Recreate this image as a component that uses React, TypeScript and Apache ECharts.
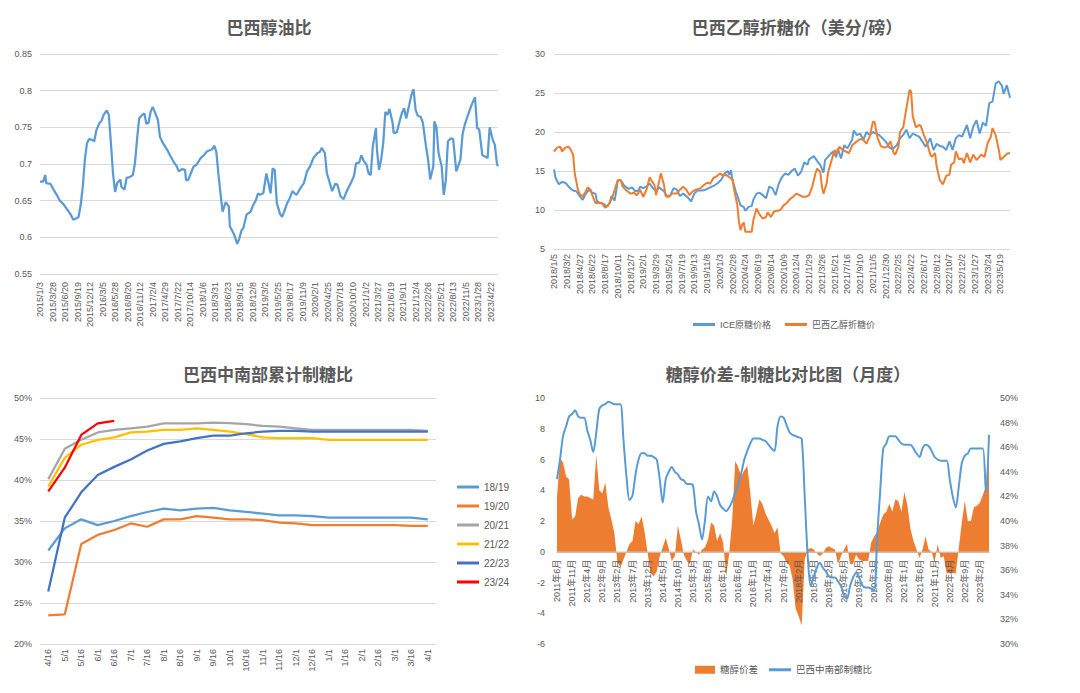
import { useEffect, useRef } from "react";
import * as echarts from "echarts";

const FONT = "'Liberation Sans', 'Noto Sans CJK SC', sans-serif";
const TITLE_FONT = "'Noto Sans CJK SC', sans-serif";
const LABEL = "#595959";
const GRIDLINE = "#d9d9d9";
const BLUE = "#5B9BD5";
const ORANGE = "#ED7D31";

// 巴西醇油比 — weekly, week 0 = 2015/1/3, one tick label every 12 weeks
const oilTicks = [
  "2015/1/3", "2015/3/28", "2015/6/20", "2015/9/19", "2015/12/12", "2016/3/5",
  "2016/5/28", "2016/8/20", "2016/11/12", "2017/2/4", "2017/4/29", "2017/7/22",
  "2017/10/14", "2018/1/6", "2018/3/31", "2018/6/23", "2018/9/15", "2018/12/8",
  "2019/3/2", "2019/5/25", "2019/8/17", "2019/11/9", "2020/2/1", "2020/4/25",
  "2020/7/18", "2020/10/10", "2021/1/2", "2021/3/27", "2021/6/19", "2021/9/11",
  "2021/12/4", "2022/2/26", "2022/5/21", "2022/8/13", "2022/11/5", "2023/1/28",
  "2023/4/22",
];
const oilRatio: [number, number][] = [
  [0, 0.676], [3, 0.676], [5, 0.685], [6, 0.674], [10, 0.673], [13, 0.665], [16, 0.658],
  [19, 0.65], [22, 0.646], [26, 0.638], [29, 0.632], [32, 0.624], [35, 0.626], [37, 0.628],
  [39, 0.644], [41, 0.669], [43, 0.706], [45, 0.728], [47, 0.734], [50, 0.733], [52, 0.731],
  [54, 0.746], [57, 0.756], [59, 0.759], [61, 0.767], [64, 0.773], [66, 0.767], [68, 0.728],
  [70, 0.687], [72, 0.662], [74, 0.674], [77, 0.679], [78, 0.669], [81, 0.665], [83, 0.681],
  [86, 0.682], [89, 0.685], [91, 0.701], [93, 0.733], [95, 0.762], [98, 0.767], [100, 0.769],
  [102, 0.755], [104, 0.756], [106, 0.771], [108, 0.778], [110, 0.771], [113, 0.76],
  [115, 0.737], [118, 0.728], [122, 0.719], [125, 0.711], [128, 0.703], [131, 0.697],
  [133, 0.69], [136, 0.693], [139, 0.692], [140, 0.678], [142, 0.678], [144, 0.685],
  [147, 0.696], [150, 0.699], [154, 0.708], [157, 0.712], [160, 0.717], [165, 0.72],
  [167, 0.725], [169, 0.717], [171, 0.687], [173, 0.66], [175, 0.635], [178, 0.648],
  [181, 0.642], [182, 0.615], [186, 0.604], [189, 0.591], [191, 0.598], [193, 0.609],
  [195, 0.613], [198, 0.631], [202, 0.635], [204, 0.643], [207, 0.651], [209, 0.66],
  [211, 0.658], [214, 0.66], [217, 0.687], [219, 0.674], [221, 0.66], [223, 0.694],
  [225, 0.692], [227, 0.647], [230, 0.632], [232, 0.628], [234, 0.635], [237, 0.647],
  [239, 0.652], [242, 0.663], [244, 0.66], [246, 0.658], [250, 0.668], [253, 0.674],
  [256, 0.69], [259, 0.697], [262, 0.708], [266, 0.715], [268, 0.716], [270, 0.722],
  [273, 0.715], [275, 0.687], [277, 0.678], [280, 0.663], [283, 0.673], [285, 0.672],
  [288, 0.656], [291, 0.652], [294, 0.663], [298, 0.674], [301, 0.684], [303, 0.701],
  [306, 0.702], [308, 0.712], [310, 0.705], [313, 0.699], [315, 0.687], [317, 0.685],
  [319, 0.724], [322, 0.749], [323, 0.719], [325, 0.692], [327, 0.706], [329, 0.728],
  [331, 0.771], [333, 0.767], [335, 0.775], [338, 0.756], [339, 0.742], [342, 0.743],
  [345, 0.76], [347, 0.77], [349, 0.776], [351, 0.762], [354, 0.781], [356, 0.794],
  [358, 0.802], [360, 0.774], [362, 0.766], [365, 0.764], [367, 0.756], [370, 0.724],
  [372, 0.706], [374, 0.679], [377, 0.697], [378, 0.758], [380, 0.75], [382, 0.715],
  [385, 0.697], [387, 0.658], [389, 0.678], [391, 0.731], [394, 0.735], [396, 0.734],
  [399, 0.69], [403, 0.706], [405, 0.74], [407, 0.753], [410, 0.766], [413, 0.778],
  [415, 0.785], [417, 0.791], [419, 0.749], [421, 0.747], [424, 0.712], [427, 0.71],
  [429, 0.708], [431, 0.75], [434, 0.733], [436, 0.726], [438, 0.7], [439, 0.697],
];
const oilLastWeek = 439;

// 巴西乙醇折糖价 — weekly, week 0 = 2018/1/5, one tick label every 8 weeks
const priceTicks = [
  "2018/1/5", "2018/3/2", "2018/4/27", "2018/6/22", "2018/8/17", "2018/10/11",
  "2018/12/7", "2019/2/1", "2019/3/29", "2019/5/24", "2019/7/19", "2019/9/13",
  "2019/11/8", "2020/1/3", "2020/2/28", "2020/4/24", "2020/6/19", "2020/8/14",
  "2020/10/9", "2020/12/4", "2021/1/29", "2021/3/26", "2021/5/21", "2021/7/16",
  "2021/9/10", "2021/11/5", "2021/12/30", "2022/2/25", "2022/4/22", "2022/6/17",
  "2022/8/12", "2022/10/7", "2022/12/2", "2023/1/27", "2023/3/24", "2023/5/19",
];
const icePrice: [number, number][] = [
  [0, 15.2], [1, 14.1], [3, 13.3], [5, 13.6], [7, 13.5], [8, 13.3], [10, 12.8], [12, 12.5],
  [14, 12.4], [16, 11.8], [18, 11.3], [20, 12.1], [22, 12.6], [24, 12.2], [26, 12.1],
  [27, 11.1], [29, 10.9], [31, 10.8], [33, 10.4], [35, 10.9], [36, 11.8], [38, 11.2],
  [39, 12.4], [40, 13.8], [42, 13.8], [44, 13.1], [47, 12.7], [49, 12.9], [51, 12.4],
  [53, 12.5], [54, 13.0], [56, 12.8], [58, 13.0], [60, 13.4], [62, 12.8], [64, 12.4],
  [66, 12.9], [69, 12.4], [71, 11.7], [73, 11.9], [75, 12.8], [77, 12.6], [79, 11.8],
  [81, 12.1], [84, 11.6], [86, 11.1], [88, 12.1], [90, 12.5], [93, 12.5], [95, 12.6],
  [97, 12.8], [99, 13.0], [101, 13.2], [103, 13.5], [105, 13.9], [107, 14.7], [109, 15.0],
  [110, 14.5], [111, 15.1], [112, 13.8], [114, 12.4], [116, 11.2], [117, 10.6], [119, 10.4],
  [120, 9.9], [122, 10.4], [124, 10.5], [125, 11.3], [127, 12.1], [129, 12.2], [131, 11.9],
  [133, 11.5], [135, 13.0], [137, 12.8], [139, 11.9], [141, 13.4], [143, 14.2], [145, 14.7],
  [147, 14.5], [149, 15.0], [151, 15.3], [153, 14.4], [155, 14.9], [157, 16.1], [159, 15.8],
  [160, 16.5], [163, 16.9], [165, 16.3], [167, 15.8], [169, 14.8], [170, 16.4], [173, 17.1],
  [175, 17.5], [177, 16.8], [178, 17.9], [180, 16.6], [182, 18.3], [184, 17.9], [187, 19.0],
  [188, 20.2], [190, 19.6], [192, 19.8], [194, 19.0], [196, 20.0], [198, 19.6], [200, 20.0],
  [202, 19.8], [204, 19.6], [206, 19.2], [208, 18.8], [210, 18.1], [212, 17.8], [215, 18.3],
  [217, 19.2], [219, 19.6], [221, 20.3], [223, 19.2], [225, 19.8], [227, 19.6], [229, 19.4],
  [231, 18.8], [233, 18.1], [236, 19.2], [238, 17.7], [240, 18.5], [242, 18.2], [244, 18.1],
  [246, 17.7], [248, 18.8], [250, 17.7], [252, 19.2], [254, 19.6], [256, 19.4], [259, 20.9],
  [261, 19.2], [263, 20.7], [265, 21.5], [267, 19.8], [269, 21.2], [271, 20.8], [273, 23.7],
  [275, 23.9], [277, 26.2], [279, 26.5], [281, 25.9], [282, 24.9], [284, 26.0], [286, 24.4],
];
const ethanolPrice: [number, number][] = [
  [0, 17.5], [2, 18.0], [4, 18.1], [5, 17.5], [7, 18.0], [9, 18.1], [10, 17.9], [12, 17.1],
  [13, 14.7], [15, 12.6], [16, 12.1], [18, 11.7], [20, 12.4], [21, 12.9], [23, 12.6],
  [24, 11.9], [26, 10.9], [28, 10.9], [30, 10.9], [32, 10.3], [34, 10.6], [36, 11.4],
  [37, 11.9], [39, 13.2], [40, 13.8], [42, 13.8], [43, 13.0], [46, 12.4], [48, 12.1],
  [50, 12.2], [52, 11.9], [54, 12.6], [56, 11.7], [58, 12.6], [60, 14.2], [61, 13.8],
  [63, 13.2], [64, 11.9], [65, 12.8], [67, 14.7], [69, 13.2], [70, 11.8], [72, 11.7],
  [74, 12.1], [77, 12.1], [79, 12.6], [81, 13.0], [83, 12.6], [85, 11.9], [87, 12.4],
  [89, 12.6], [92, 12.8], [94, 13.2], [96, 13.5], [98, 13.4], [100, 14.1], [102, 14.3],
  [104, 14.7], [106, 14.4], [108, 14.5], [110, 14.2], [112, 13.9], [113, 12.6], [115, 10.6],
  [116, 8.5], [117, 7.4], [118, 8.1], [119, 8.4], [120, 7.2], [122, 7.2], [124, 7.2],
  [125, 8.7], [127, 10.2], [129, 9.4], [131, 8.9], [133, 9.1], [134, 9.7], [136, 9.1],
  [138, 9.8], [140, 9.9], [142, 10.0], [144, 10.6], [146, 10.9], [148, 11.4], [150, 11.7],
  [152, 12.1], [154, 11.9], [156, 11.7], [158, 11.7], [160, 11.9], [162, 13.0], [164, 14.7],
  [165, 15.3], [167, 14.9], [168, 13.0], [169, 12.1], [171, 13.4], [172, 14.9], [174, 16.3],
  [176, 17.7], [177, 17.1], [179, 18.1], [181, 17.7], [183, 17.5], [185, 17.3], [187, 18.3],
  [190, 18.8], [192, 19.1], [194, 19.0], [196, 18.5], [198, 19.4], [200, 21.3], [201, 21.3],
  [203, 19.2], [205, 18.2], [207, 18.0], [209, 18.1], [211, 18.8], [213, 17.3], [214, 17.1],
  [216, 18.1], [217, 20.0], [219, 20.6], [221, 23.0], [223, 25.4], [224, 25.2], [225, 22.0],
  [227, 20.6], [229, 20.9], [230, 20.8], [232, 19.6], [234, 18.6], [236, 17.1], [237, 16.8],
  [239, 17.3], [240, 15.6], [242, 13.8], [244, 13.3], [246, 14.4], [248, 14.5], [249, 15.8],
  [251, 16.1], [252, 17.5], [254, 16.5], [256, 16.6], [257, 16.0], [259, 17.3], [261, 16.1],
  [263, 17.1], [265, 16.4], [268, 17.1], [270, 16.8], [272, 18.6], [274, 19.4], [275, 20.5],
  [277, 19.6], [279, 17.7], [280, 16.4], [282, 16.8], [284, 17.2], [286, 17.3],
];
const priceLastWeek = 286;

// 巴西中南部累计制糖比 (%), half-month checkpoints of each season
const halfMonths = [
  "4/16", "5/1", "5/16", "6/1", "6/16", "7/1", "7/16", "8/1", "8/16", "9/1", "9/16", "10/1",
  "10/16", "11/1", "11/16", "12/1", "12/16", "1/1", "1/16", "2/1", "2/16", "3/1", "3/16", "4/1",
];
const mix1819 = [31.4, 34.1, 35.2, 34.5, 35.0, 35.6, 36.1, 36.5, 36.3, 36.5, 36.6, 36.3, 36.1, 35.9, 35.7, 35.7, 35.6, 35.4, 35.4, 35.4, 35.4, 35.4, 35.4, 35.2];
const mix1920 = [23.5, 23.6, 32.2, 33.3, 33.9, 34.7, 34.3, 35.2, 35.2, 35.6, 35.4, 35.2, 35.2, 35.1, 34.8, 34.7, 34.5, 34.5, 34.5, 34.5, 34.5, 34.5, 34.4, 34.4];
const mix2021 = [40.1, 43.8, 44.9, 45.8, 46.1, 46.3, 46.5, 46.9, 46.9, 46.9, 47.0, 46.95, 46.8, 46.6, 46.5, 46.3, 46.1, 46.1, 46.1, 46.1, 46.1, 46.1, 46.1, 46.0];
const mix2122 = [39.2, 42.7, 44.3, 44.9, 45.2, 45.8, 45.9, 46.1, 46.1, 46.3, 46.1, 45.9, 45.6, 45.2, 45.1, 45.1, 45.1, 44.9, 44.9, 44.9, 44.9, 44.9, 44.9, 44.9];
const mix2223 = [26.4, 35.4, 38.5, 40.6, 41.6, 42.5, 43.6, 44.4, 44.7, 45.1, 45.4, 45.4, 45.7, 45.9, 46.0, 46.0, 45.9, 45.9, 45.9, 45.9, 45.9, 45.9, 45.9, 45.9];
const mix2324 = [38.6, 41.5, 45.5, 46.9, 47.2];
const seasonNames = ["18/19", "19/20", "20/21", "21/22", "22/23", "23/24"];
const seasonData = [mix1819, mix1920, mix2021, mix2122, mix2223, mix2324];
const seasonColors = ["#5B9BD5", "#ED7D31", "#A5A5A5", "#FFC000", "#4472C4", "#FF0000"];

// 糖醇价差 (left axis) and 巴西中南部制糖比 (%, right axis), monthly from 2011年6月
const firstMonth = { year: 2011, month: 6 };
const spread = [
  3.6, 6.1, 5.8, 4.9, 4.7, 2.1, 2.3, 3.5, 3.7, 3.6,
  3.6, 3.5, 3.4, 6.3, 4.0, 3.8, 4.5, 2.9, 2.1, 1.2,
  -0.7, -1.0, -0.5, 0, 0.5, 0.7, 2.0, 1.8, 2.3, 1.3,
  -0.1, -1.4, -1.6, -1.3, -0.3, 0.3, 0.9, 0.2, -0.6, -0.3,
  1.7, 0.8, -0.2, -0.6, -0.8, 0.15, 0, -0.2, 0.15, 0.3,
  0.8, 1.9, 1.7, 0.7, 1.2, 0.6, -1.6, -0.1, 2.1, 5.9,
  5.5, 4.9, 5.3, 5.6, 3.8, 1.7, 2.5, 3.4, 3.1, 2.5,
  2.1, 1.7, 1.2, 1.6, -0.1, -0.3, -0.7, -0.9, -1.8, -3.7,
  -4.2, -4.8, -0.5, 0.15, 0.25, 0.15, -0.1, -0.3, -0.1, 0.25,
  0.35, 0.25, 0.15, -0.8, -0.3, 0.15, 0.5, -0.8, -0.8, -0.2,
  -0.5, -0.6, -0.6, -0.6, 0.6, 1.0, 1.3, 1.9, 2.4, 2.6,
  3.1, 2.6, 3.4, 3.3, 2.6, 3.9, 3.0, 1.5, 0.7, 0.15,
  -0.4, 0.15, 1.0, 0.15, 0, -0.7, 0.5, -0.4, -0.3, -1.4,
  -1.4, -1.4, -1.4, 0.25, 1.9, 3.3, 2.0, 2.0, 2.9, 3.0,
  3.2, 3.7, 4.3, 7.8,
];
const sugarMix = [
  43.4, 45.0, 46.9, 47.7, 48.5, 48.7, 49.0, 48.5, 48.4, 48.4,
  47.4, 46.6, 45.6, 47.2, 49.1, 49.4, 49.5, 49.7, 49.6, 49.5,
  49.5, 49.5, 46.6, 43.6, 41.7, 42.1, 43.8, 45.0, 45.5, 45.5,
  45.3, 45.3, 45.2, 45.0, 43.4, 41.5, 43.4, 44.0, 44.4, 44.0,
  43.8, 43.4, 43.3, 43.0, 43.0, 42.9, 40.8, 39.7, 38.5, 40.1,
  42.0, 41.6, 42.4, 42.0, 41.3, 41.0, 40.8, 41.1, 41.6, 42.3,
  43.0, 43.9, 45.0, 45.7, 46.3, 46.7, 46.7, 46.7, 46.6, 46.5,
  46.2, 45.9, 45.7, 47.7, 48.5, 48.4, 47.8, 47.2, 47.0, 46.9,
  46.8, 46.7, 42.0, 37.1, 34.7, 35.5, 36.2, 36.6, 36.2, 35.9,
  35.5, 35.4, 35.4, 35.1, 34.7, 34.0, 33.7, 34.7, 35.4, 35.8,
  35.4, 34.8, 34.6, 34.6, 34.5, 34.3, 38.8, 42.5, 45.9, 46.3,
  46.9, 46.9, 46.9, 46.6, 46.3, 46.2, 46.2, 46.2, 45.9, 45.5,
  45.2, 45.9, 46.2, 46.1, 45.7, 45.2, 45.0, 44.9, 44.9, 44.9,
  43.4, 42.0, 41.1, 42.8, 44.7, 45.3, 45.5, 45.9, 45.9, 45.9,
  45.9, 45.9, 42.3, 47.0,
];
const spreadMin = -6;
const spreadMax = 10;

const months = spread.map((_, i) => {
  const t = firstMonth.year * 12 + firstMonth.month - 1 + i;
  return `${Math.floor(t / 12)}年${(t % 12) + 1}月`;
});

const axisText = { color: LABEL, fontSize: 9, fontFamily: FONT };

// Panel boxes
const spreadGrid = { left: 557, top: 398, width: 432, height: 246 };
// The month axis sits on the zero line of the spread axis
const zeroOffset = -(spreadGrid.height * (0 - spreadMin)) / (spreadMax - spreadMin);

function title(text: string, x: number, y: number) {
  return {
    text,
    left: x,
    top: y,
    textAlign: "center",
    padding: 0,
    textStyle: { color: "#595959", fontSize: 17, fontWeight: "bold", fontFamily: TITLE_FONT },
  };
}

function tickFormatter(ticks: string[], step: number) {
  return (v: number) => (v % step === 0 && ticks[v / step] !== undefined ? ticks[v / step] : "");
}

export default function App() {
  const ref = useRef<HTMLDivElement>(null);

  useEffect(() => {
    if (!ref.current) return;
    const chart = echarts.init(ref.current, null, { renderer: "svg" });

    const option: any = {
      animation: false,
      backgroundColor: "#ffffff",
      title: [
        title("巴西醇油比", 269, 18),
        title("巴西乙醇折糖价（美分/磅）", 797, 18),
        title("巴西中南部累计制糖比", 268, 365),
        title("糖醇价差-制糖比对比图（月度）", 788, 365),
      ],
      legend: [
        {
          data: ["ICE原糖价格", "巴西乙醇折糖价"],
          left: 688,
          top: 315,
          icon: "rect",
          itemWidth: 22,
          itemHeight: 3,
          itemGap: 14,
          textStyle: { color: LABEL, fontSize: 9, fontFamily: FONT },
        },
        {
          data: seasonNames,
          orient: "vertical",
          left: 452,
          top: 475,
          icon: "rect",
          itemWidth: 22,
          itemHeight: 3,
          itemGap: 5,
          textStyle: { color: LABEL, fontSize: 10, fontFamily: FONT, lineHeight: 14 },
        },
        {
          data: ["糖醇价差"],
          left: 690,
          top: 660,
          icon: "rect",
          itemWidth: 20,
          itemHeight: 8,
          textStyle: { color: LABEL, fontSize: 9.5, fontFamily: FONT },
        },
        {
          data: ["巴西中南部制糖比"],
          left: 764,
          top: 660,
          icon: "rect",
          itemWidth: 22,
          itemHeight: 3,
          textStyle: { color: LABEL, fontSize: 9.5, fontFamily: FONT },
        },
      ],
      grid: [
        { left: 40, top: 54, width: 458, height: 220, outerBoundsMode: "none" },
        { left: 554, top: 54, width: 456, height: 195, outerBoundsMode: "none" },
        { left: 40, top: 398, width: 396, height: 246, outerBoundsMode: "none" },
        { ...spreadGrid, outerBoundsMode: "none" },
      ],
      xAxis: [
        {
          gridIndex: 0,
          type: "value",
          min: 0,
          max: oilLastWeek,
          interval: 12,
          axisLine: { show: false },
          axisTick: { show: false },
          splitLine: { show: false },
          axisLabel: {
            ...axisText,
            rotate: 90,
            margin: 8,
            showMaxLabel: false,
            formatter: tickFormatter(oilTicks, 12),
          },
        },
        {
          gridIndex: 1,
          type: "value",
          min: 0,
          max: priceLastWeek,
          interval: 8,
          axisLine: { show: false },
          axisTick: { show: false },
          splitLine: { show: false },
          axisLabel: {
            ...axisText,
            rotate: 90,
            margin: 5,
            showMaxLabel: false,
            formatter: tickFormatter(priceTicks, 8),
          },
        },
        {
          gridIndex: 2,
          type: "category",
          data: halfMonths,
          boundaryGap: true,
          axisLine: { show: false },
          axisTick: { show: false },
          axisLabel: { ...axisText, rotate: 90, margin: 5, interval: 0 },
        },
        {
          gridIndex: 3,
          type: "category",
          data: months,
          boundaryGap: false,
          position: "bottom",
          offset: zeroOffset,
          z: 3,
          axisLine: { show: true, onZero: false, lineStyle: { color: "#bfbfbf", width: 1 } },
          axisTick: { show: false },
          axisLabel: { ...axisText, rotate: 90, margin: 8, interval: 4 },
        },
      ],
      yAxis: [
        {
          gridIndex: 0,
          type: "value",
          min: 0.55,
          max: 0.85,
          interval: 0.05,
          axisLine: { show: false },
          axisTick: { show: false },
          splitLine: { lineStyle: { color: GRIDLINE, width: 1 } },
          axisLabel: { ...axisText, margin: 8 },
        },
        {
          gridIndex: 1,
          type: "value",
          min: 5,
          max: 30,
          interval: 5,
          axisLine: { show: false },
          axisTick: { show: false },
          splitLine: { lineStyle: { color: GRIDLINE, width: 1 } },
          axisLabel: { ...axisText, margin: 9 },
        },
        {
          gridIndex: 2,
          type: "value",
          min: 20,
          max: 50,
          interval: 5,
          axisLine: { show: false },
          axisTick: { show: false },
          splitLine: { lineStyle: { color: GRIDLINE, width: 1 } },
          axisLabel: { ...axisText, margin: 8, formatter: (v: number) => `${v}%` },
        },
        {
          gridIndex: 3,
          type: "value",
          min: spreadMin,
          max: spreadMax,
          interval: 2,
          axisLine: { show: false },
          axisTick: { show: false },
          splitLine: { show: false },
          axisLabel: { ...axisText, margin: 12 },
        },
        {
          gridIndex: 3,
          type: "value",
          position: "right",
          min: 30,
          max: 50,
          interval: 2,
          axisLine: { show: false },
          axisTick: { show: false },
          splitLine: { show: false },
          axisLabel: { ...axisText, margin: 11, formatter: (v: number) => `${v}%` },
        },
      ],
      series: [
        {
          name: "巴西醇油比",
          type: "line",
          xAxisIndex: 0,
          yAxisIndex: 0,
          data: oilRatio,
          showSymbol: false,
          color: BLUE,
          lineStyle: { color: BLUE, width: 2.25 },
        },
        {
          name: "ICE原糖价格",
          type: "line",
          xAxisIndex: 1,
          yAxisIndex: 1,
          data: icePrice,
          showSymbol: false,
          color: BLUE,
          itemStyle: { color: BLUE },
          lineStyle: { color: BLUE, width: 2 },
        },
        {
          name: "巴西乙醇折糖价",
          type: "line",
          xAxisIndex: 1,
          yAxisIndex: 1,
          data: ethanolPrice,
          showSymbol: false,
          color: ORANGE,
          itemStyle: { color: ORANGE },
          lineStyle: { color: ORANGE, width: 2 },
        },
        ...seasonNames.map((name, i) => ({
          name,
          type: "line",
          xAxisIndex: 2,
          yAxisIndex: 2,
          data: seasonData[i],
          showSymbol: false,
          color: seasonColors[i],
          itemStyle: { color: seasonColors[i] },
          lineStyle: { color: seasonColors[i], width: 2.25 },
        })),
        {
          name: "糖醇价差",
          type: "line",
          xAxisIndex: 3,
          yAxisIndex: 3,
          data: spread,
          showSymbol: false,
          color: ORANGE,
          itemStyle: { color: ORANGE },
          lineStyle: { width: 0 },
          areaStyle: { color: ORANGE, opacity: 1, origin: 0 },
          z: 1,
        },
        {
          name: "巴西中南部制糖比",
          type: "line",
          xAxisIndex: 3,
          yAxisIndex: 4,
          data: sugarMix,
          showSymbol: false,
          smooth: 0.3,
          color: BLUE,
          itemStyle: { color: BLUE },
          lineStyle: { color: BLUE, width: 2 },
          z: 4,
        },
      ],
    };

    chart.setOption(option);
    return () => chart.dispose();
  }, []);

  return (
    <div
      ref={ref}
      style={{ position: "fixed", left: 0, top: 0, width: 1080, height: 693, background: "#fff" }}
    />
  );
}
